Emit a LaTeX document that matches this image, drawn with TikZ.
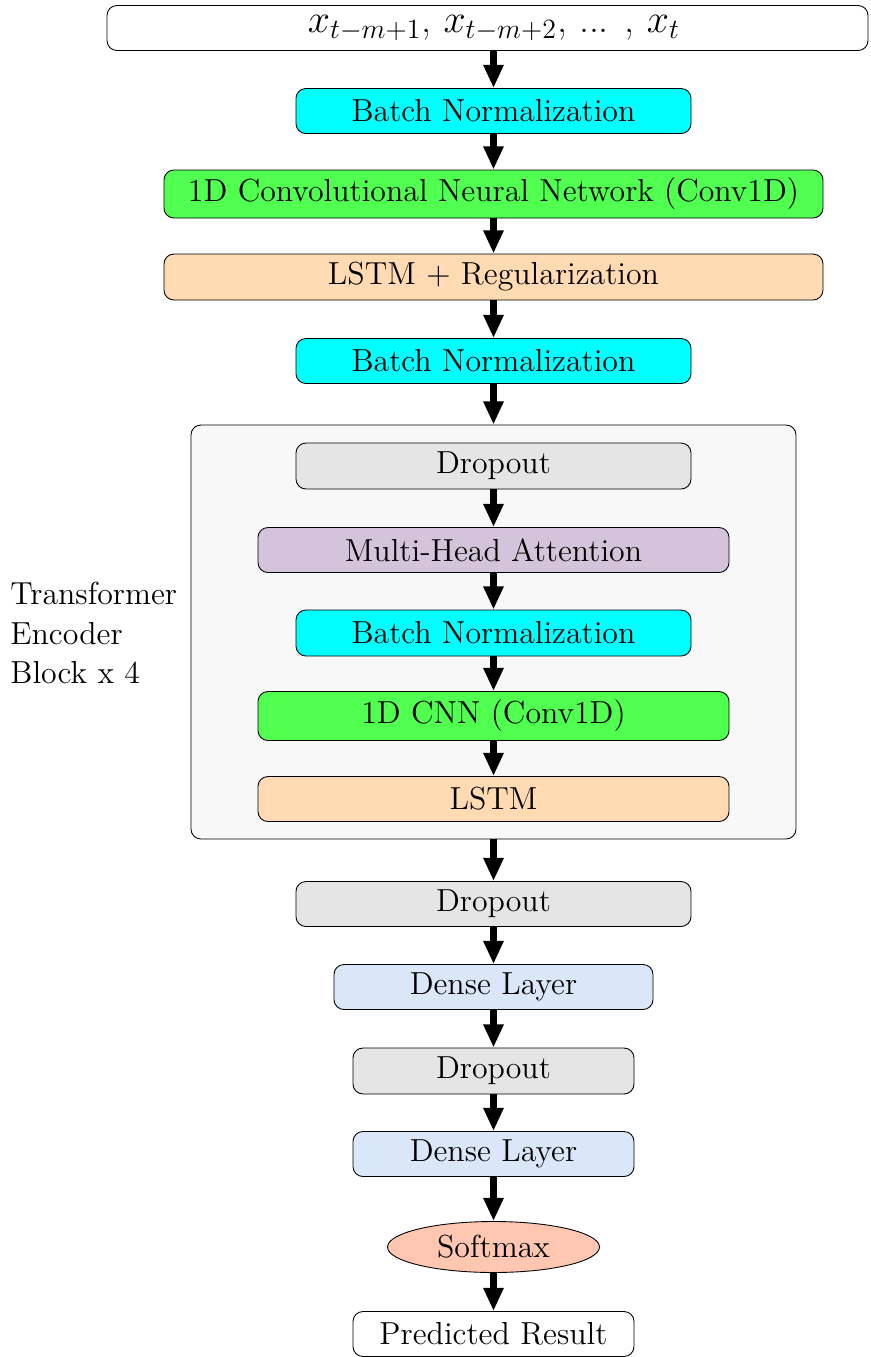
\documentclass[tikz,border=0pt]{standalone}
\usepackage{fix-cm}
\usetikzlibrary{arrows.meta,shapes.geometric}
\definecolor{cBN}{HTML}{00FFFF}
\definecolor{cCNN}{HTML}{50FF50}
\definecolor{cLSTM}{HTML}{FFDAB3}
\definecolor{cMHA}{HTML}{D3C4DB}
\definecolor{cDrop}{HTML}{E5E5E5}
\definecolor{cDense}{HTML}{DAE7F8}
\definecolor{cSoft}{HTML}{FFC6B1}
\definecolor{cBox}{HTML}{F8F8F8}
\tikzset{
  layer/.style={draw=black, rounded corners=4.5pt, font=\Large, inner sep=0pt, minimum height=45*0.452pt},
  arr/.style={line width=2.9pt, -{Triangle[width=8.6pt,length=10.5pt]}},
}
\begin{document}
\begin{tikzpicture}[x={(0.452pt,0)}, y={(0,-0.452pt)}]
\useasboundingbox (0,0) rectangle (870,1357);
% container
\node[draw=black, fill=cBox, rounded corners=4.5pt, minimum width=605*0.452pt, minimum height=414*0.452pt, inner sep=0pt] (enc) at (493.5,632) {};
\node[layer, fill=white, minimum width=761*0.452pt, font=\fontsize{18}{22}\selectfont] (in) at (487.5,28) {\hspace*{5.9pt}$x_{t-m+1}$, $x_{t-m+2}$, ... , $x_t$};
\node[layer, fill=cBN, minimum width=395*0.452pt] (bn1) at (493.5,111) {Batch Normalization};
\node[layer, fill=cCNN, minimum width=659*0.452pt, minimum height=48*0.452pt] (cnn1) at (493.5,194) {1D Convolutional Neural Network (Conv1D)};
\node[layer, fill=cLSTM, minimum width=659*0.452pt, minimum height=46*0.452pt] (lstm1) at (493.5,277) {LSTM + Regularization};
\node[layer, fill=cBN, minimum width=395*0.452pt] (bn2) at (493.5,361) {Batch Normalization};
\node[layer, fill=cDrop, minimum width=395*0.452pt, minimum height=46*0.452pt] (drop1) at (493.5,466) {Dropout};
\node[layer, fill=cMHA, minimum width=471*0.452pt] (mha) at (493.5,550) {Multi-Head Attention};
\node[layer, fill=cBN, minimum width=395*0.452pt, minimum height=46*0.452pt] (bn3) at (493.5,633) {Batch Normalization};
\node[layer, fill=cCNN, minimum width=471*0.452pt, minimum height=49*0.452pt] (cnn2) at (493.5,716) {1D CNN (Conv1D)};
\node[layer, fill=cLSTM, minimum width=471*0.452pt] (lstm2) at (493.5,799) {LSTM};
\node[layer, fill=cDrop, minimum width=395*0.452pt] (drop2) at (493.5,904) {Dropout};
\node[layer, fill=cDense, minimum width=319*0.452pt] (dense1) at (493.5,987) {Dense Layer};
\node[layer, fill=cDrop, minimum width=281*0.452pt, minimum height=46*0.452pt] (drop3) at (493.5,1071) {Dropout};
\node[layer, fill=cDense, minimum width=281*0.452pt] (dense2) at (493.5,1154) {Dense Layer};
\node[draw=black, fill=cSoft, ellipse, font=\Large, inner sep=0pt, minimum width=212*0.452pt, minimum height=51*0.452pt] (soft) at (493.5,1247) {Softmax};
\node[layer, fill=white, minimum width=281*0.452pt] (out) at (493.5,1334) {Predicted Result};
\node[font=\Large, align=left, anchor=west, inner sep=0pt] (lbl) at (10,633) {Transformer\\Encoder\\Block x 4};
% arrows
\draw[arr] (in.south -| bn1) -- (bn1);
\draw[arr] (bn1) -- (cnn1);
\draw[arr] (cnn1) -- (lstm1);
\draw[arr] (lstm1) -- (bn2);
\draw[arr] (bn2) -- (enc);
\draw[arr] (drop1) -- (mha);
\draw[arr] (mha) -- (bn3);
\draw[arr] (bn3) -- (cnn2);
\draw[arr] (cnn2) -- (lstm2);
\draw[arr] (enc) -- (drop2);
\draw[arr] (drop2) -- (dense1);
\draw[arr] (dense1) -- (drop3);
\draw[arr] (drop3) -- (dense2);
\draw[arr] (dense2) -- (soft);
\draw[arr] (soft) -- (out);
\end{tikzpicture}
\end{document}
